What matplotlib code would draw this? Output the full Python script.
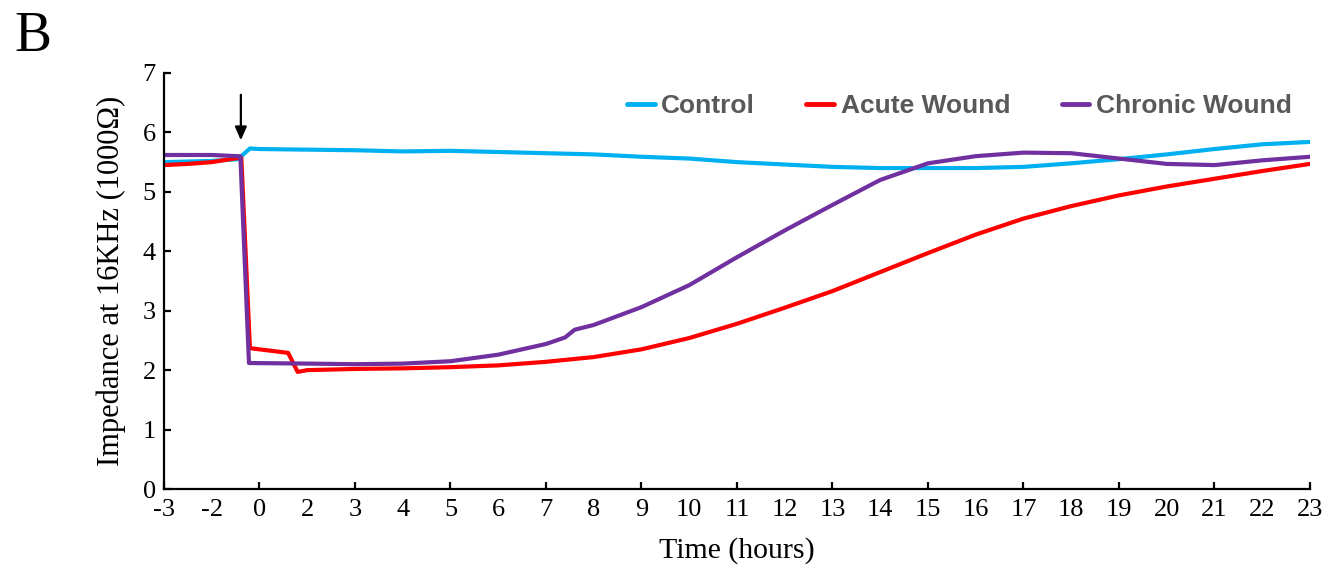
import matplotlib
matplotlib.use("Agg")
import matplotlib.pyplot as plt
from matplotlib.lines import Line2D

# Category-axis tick labels (evenly spaced positions 0..24)
tick_labels = ["-3", "-2", "0"] + [str(h) for h in range(2, 24)]

# Series sampled along the category axis position
control_pos = [0, 0.5, 1.0, 1.55, 1.8, 2, 3, 4, 5, 6, 7, 8, 9, 10, 11, 12, 13, 14, 15, 16, 17, 18, 19, 20, 21, 22, 23, 24]
control_val = [5.50, 5.51, 5.52, 5.55, 5.73, 5.72, 5.71, 5.70, 5.68, 5.69, 5.67, 5.65, 5.63, 5.59, 5.56, 5.50, 5.46, 5.42, 5.40, 5.40, 5.40, 5.42, 5.48, 5.55, 5.63, 5.72, 5.80, 5.84]

acute_pos = [0, 0.5, 1.0, 1.55, 1.62, 1.8, 2.6, 2.8, 3, 4, 5, 6, 7, 8, 9, 10, 11, 12, 13, 14, 15, 16, 17, 18, 19, 20, 21, 22, 23, 24]
acute_val = [5.45, 5.47, 5.50, 5.57, 5.57, 2.37, 2.29, 1.97, 2.00, 2.02, 2.03, 2.05, 2.08, 2.14, 2.22, 2.35, 2.54, 2.78, 3.05, 3.33, 3.65, 3.97, 4.28, 4.55, 4.76, 4.94, 5.09, 5.22, 5.35, 5.47]

chronic_pos = [0, 1.0, 1.55, 1.6, 1.78, 3, 4, 5, 6, 7, 8, 8.4, 8.6, 9, 10, 11, 12, 13, 14, 15, 16, 17, 18, 19, 20, 21, 22, 23, 24]
chronic_val = [5.62, 5.62, 5.60, 5.60, 2.12, 2.11, 2.10, 2.11, 2.15, 2.26, 2.44, 2.55, 2.68, 2.76, 3.06, 3.43, 3.90, 4.35, 4.78, 5.20, 5.48, 5.60, 5.66, 5.65, 5.56, 5.47, 5.45, 5.53, 5.59]

wound_pos = 1.61
series_names = ["Control", "Acute Wound", "Chronic Wound"]
colors = ["#00B0F0", "#FF0000", "#7030A0"]

serif = "Liberation Serif"

fig = plt.figure(figsize=(13.43, 5.71), dpi=100)
ax = fig.add_axes([0.1221, 0.1436, 0.8533, 0.7286])

ax.plot(control_pos, control_val, color=colors[0], lw=3, solid_joinstyle="round")
ax.plot(acute_pos, acute_val, color=colors[1], lw=3, solid_joinstyle="round")
ax.plot(chronic_pos, chronic_val, color=colors[2], lw=3, solid_joinstyle="round")

ax.set_xlim(0, 24)
ax.set_ylim(0, 7)

for s in ["top", "right"]:
    ax.spines[s].set_visible(False)
for s in ["left", "bottom"]:
    ax.spines[s].set_linewidth(1.6)
    ax.spines[s].set_color("black")

major = list(range(0, 25, 2))
minor = list(range(1, 25, 2))
ax.set_xticks(major)
ax.set_xticklabels([tick_labels[i] for i in major])
ax.set_xticks(minor, minor=True)
ax.set_xticklabels([tick_labels[i] for i in minor], minor=True)
ax.tick_params(axis="x", which="major", direction="in", length=5, width=1.6, pad=7)
ax.tick_params(axis="x", which="minor", direction="in", length=0, pad=7)
ax.set_yticks(range(0, 8))
ax.tick_params(axis="y", direction="in", length=5, width=1.6, pad=6)
for lab in ax.get_xticklabels(which="both") + ax.get_yticklabels():
    lab.set_fontfamily(serif)
    lab.set_fontsize(19)

ax.set_xlabel("Time (hours)", fontfamily=serif, fontsize=21.5, labelpad=12)
ax.set_ylabel("Impedance at 16KHz (1000Ω)", fontfamily=serif, fontsize=22, labelpad=12)

ax.annotate("", xy=(wound_pos, 5.82), xytext=(wound_pos, 6.68),
            arrowprops=dict(arrowstyle="-|>,head_length=0.8,head_width=0.35", color="black", lw=1.6))

handles = [Line2D([0], [0], color=c, lw=3.5, solid_capstyle="round") for c in colors]
leg = ax.legend(handles, series_names, ncol=3, loc="center right", bbox_to_anchor=(1.005, 0.92),
                frameon=False, handlelength=1.05, handletextpad=0.25, columnspacing=1.95,
                prop=dict(family="Liberation Sans", weight="bold", size=19))
for t in leg.get_texts():
    t.set_color("#595959")

fig.text(0.011, 0.91, "B", fontfamily=serif, fontsize=40)

fig.savefig("out.png", dpi=100)
